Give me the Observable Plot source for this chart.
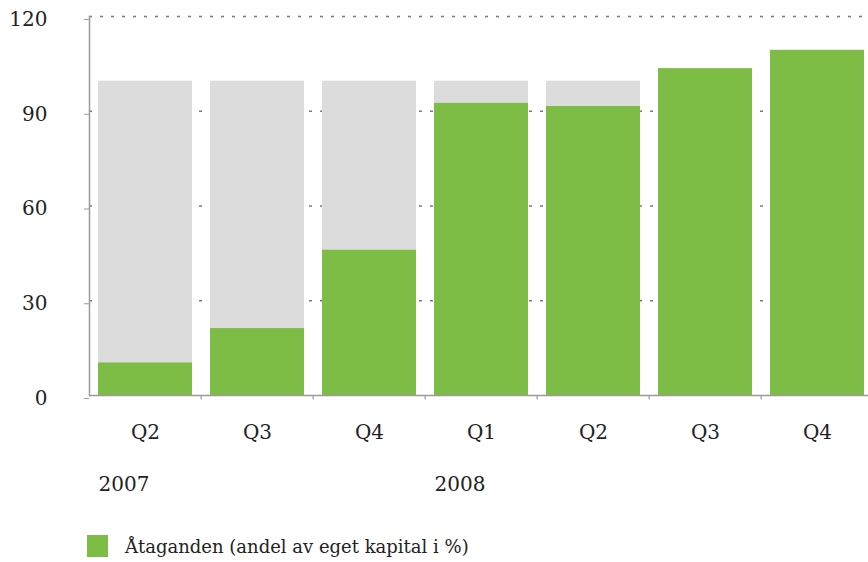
<!DOCTYPE html>
<html>
<head>
<meta charset="utf-8">
<script src="https://cdn.jsdelivr.net/npm/d3@7"></script>
<script src="https://cdn.jsdelivr.net/npm/@observablehq/plot@0.6"></script>
<style>
  html, body { margin: 0; padding: 0; background: #fff; overflow: hidden; }
  #chart { width: 868px; }
  .legend { display: flex; align-items: center; margin-top: 25px; margin-left: 87px;
    font-family: "DejaVu Serif", serif; font-size: 18px; color: #222; }
  .legend .sw { width: 21px; height: 22px; background: #7dbd45; margin-right: 17px; }
</style>
</head>
<body>
<div id="chart"></div>
<script>
// Data
const categories = ["2007 Q2", "2007 Q3", "2007 Q4", "2008 Q1", "2008 Q2", "2008 Q3", "2008 Q4"];
const quarterLabels = ["Q2", "Q3", "Q4", "Q1", "Q2", "Q3", "Q4"];
const commitments = [10.3, 21.2, 46, 92.5, 91.5, 103.5, 109.3];
const background = [99.5, 99.5, 99.5, 99.5, 99.5, null, null];
const yearLabels = ["2007", "2008"];
const yearStarts = ["2007 Q2", "2008 Q1"];
const yTicks = [0, 30, 60, 90, 120];
const legendLabel = "Åtaganden (andel av eget kapital i %)";

const rows = categories.map((c, i) => ({cat: c, q: quarterLabels[i], v: commitments[i], bg: background[i]}));
const bgRows = rows.filter(d => d.bg != null);
const labelOf = new Map(categories.map((c, i) => [c, quarterLabels[i]]));
const years = yearLabels.map((y, i) => ({cat: yearStarts[i], label: y}));

const green = "#7dbd45";
const grey = "#dcdcdc";
const axisGrey = "#9a9a9a";

const plot = Plot.plot({
  width: 868,
  height: 510,
  marginTop: 16,
  marginBottom: 115,
  marginLeft: 89,
  marginRight: 0,
  style: {fontFamily: "DejaVu Serif, serif", fontSize: "20px", color: "#222", background: "#fff", overflow: "hidden"},
  x: {type: "band", domain: categories, range: [89, 874], paddingInner: 0.158, paddingOuter: 0.062, label: null},
  y: {domain: [0, 120], range: [395, 16], label: null},
  marks: [
    Plot.ruleY([30, 60, 90, 120], {stroke: "#7a7a7a", strokeWidth: 1.3, strokeDasharray: "3,8"}),
    Plot.barY(bgRows, {x: "cat", y: "bg", fill: grey}),
    Plot.barY(rows, {x: "cat", y: "v", fill: green}),
    Plot.ruleY([0], {stroke: axisGrey, strokeWidth: 1.5}),
    Plot.frame({anchor: "left", stroke: axisGrey, strokeWidth: 1.5}),
    Plot.ruleX(categories.slice(1), {x: d => d, dx: -56.4, y1: 0, y2: -1.4, stroke: axisGrey, strokeWidth: 1.2}),
    Plot.axisY({ticks: yTicks, tickSize: 5, tickPadding: 37, tickFormat: d => String(d), stroke: axisGrey, dy: 3, fill: "#222", label: null}),
    Plot.axisX({tickSize: 0, tickPadding: 29, tickFormat: d => labelOf.get(d), fill: "#222", label: null}),
    Plot.text(years, {x: "cat", y: () => 0, text: "label", textAnchor: "start", dx: -47, dy: 89, lineAnchor: "middle", fill: "#222"})
  ]
});
document.getElementById("chart").appendChild(plot);

const legend = document.createElement("div");
legend.className = "legend";
legend.innerHTML = '<div class="sw"></div><span></span>';
legend.querySelector("span").textContent = legendLabel;
document.body.appendChild(legend);
</script>
</body>
</html>
